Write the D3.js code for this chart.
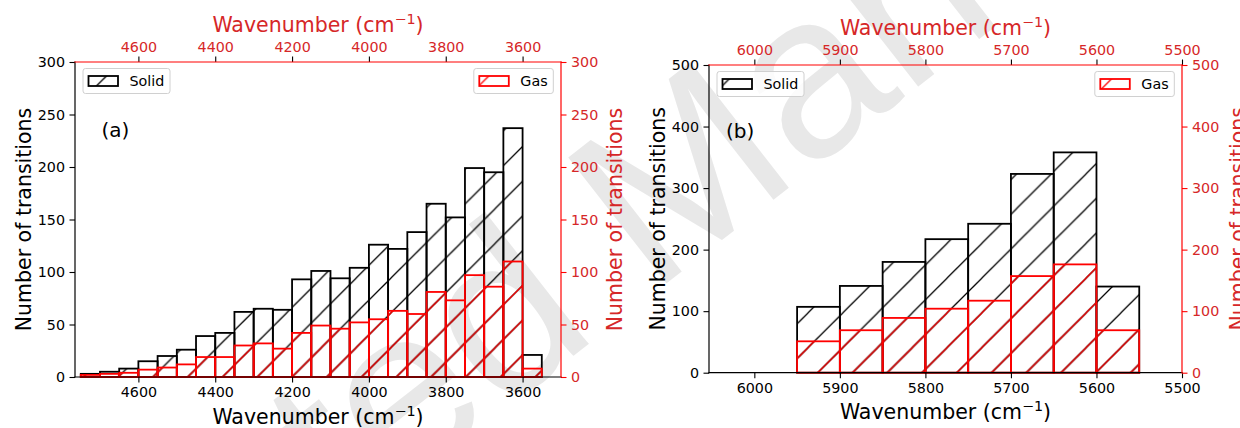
<!DOCTYPE html>
<html>
<head>
<meta charset="utf-8">
<script src="https://cdn.jsdelivr.net/npm/d3@7"></script>
<style>
  html, body { margin: 0; padding: 0; background: #fff; }
  svg { display: block; font-family: "DejaVu Sans", sans-serif; }
</style>
</head>
<body>
<svg id="fig" width="1240" height="428"></svg>
<script>
// ---- Panel (a): 50 cm-1 bins, left edge of each bin (high wavenumber side)
const binsA = [4750, 4700, 4650, 4600, 4550, 4500, 4450, 4400, 4350, 4300, 4250, 4200,
               4150, 4100, 4050, 4000, 3950, 3900, 3850, 3800, 3750, 3700, 3650, 3600];
const solidA = [3, 5, 8, 15, 20, 26, 39, 42, 62, 65, 64, 93,
                101, 94, 104, 126, 122, 138, 165, 152, 199, 195, 237, 21];
const gasA = [2, 3, 4, 7, 9, 12, 19, 19, 30, 32, 27, 42,
              49, 46, 52, 55, 63, 60, 81, 73, 97, 86, 110, 8];
const xTicksA = [4600, 4400, 4200, 4000, 3800, 3600];
const yTicksA = [0, 50, 100, 150, 200, 250, 300];

// ---- Panel (b)
const binsB = [5950, 5900, 5850, 5800, 5750, 5700, 5650, 5600];
const solidB = [107, 141, 180, 217, 242, 323, 358, 140];
const gasB = [51, 69, 89, 104, 117, 157, 176, 69];
const xTicksB = [6000, 5900, 5800, 5700, 5600, 5500];
const yTicksB = [0, 100, 200, 300, 400, 500];

const binWidth = 50;
const seriesNames = ["Solid", "Gas"];

const RED = "#ff0000";
const RED_TEXT = "#d62728";
const TICK_FONT = 14.3;
const LABEL_FONT = 20.5;
const fmt = d3.format("d");

const svg = d3.select("#fig");
const defs = svg.append("defs");

// Diagonal '/' hatch, anchored to the figure so both series share line positions
const HP = 34.76;
function hatch(id, color) {
  const p = defs.append("pattern")
    .attr("id", id)
    .attr("patternUnits", "userSpaceOnUse")
    .attr("x", 8.6).attr("y", 0)
    .attr("width", HP).attr("height", HP);
  const segs = [[0, HP, HP, 0], [-2, 2, 2, -2], [HP - 2, HP + 2, HP + 2, HP - 2]];
  segs.forEach(s => p.append("line")
    .attr("x1", s[0]).attr("y1", s[1]).attr("x2", s[2]).attr("y2", s[3])
    .attr("stroke", color).attr("stroke-width", 1.25));
}
hatch("hatch-solid", "#000");
hatch("hatch-gas", RED);

// Watermark layer (drawn first, behind everything)
const wmLayer = svg.append("g").attr("class", "watermark");

function wavenumberLabel(sel) {
  sel.append("tspan").text("Wavenumber (cm");
  sel.append("tspan").attr("dy", -8).attr("font-size", LABEL_FONT * 0.7).text("\u22121");
  sel.append("tspan").attr("dy", 8).text(")");
}

function drawPanel(cfg) {
  const g = svg.append("g");
  const x = d3.scaleLinear().domain(cfg.xDomain).range([cfg.left, cfg.right]);
  const y = d3.scaleLinear().domain([0, cfg.yMax]).range([cfg.bottom, cfg.top]);

  // solid bars
  g.append("g").selectAll("rect").data(cfg.bins.map((b, i) => ({ b, v: cfg.solid[i] })))
    .join("rect")
    .attr("x", d => x(d.b))
    .attr("width", d => x(d.b - binWidth) - x(d.b))
    .attr("y", d => y(d.v))
    .attr("height", d => y(0) - y(d.v))
    .attr("fill", "url(#hatch-solid)")
    .attr("stroke", "#000").attr("stroke-width", 1.8);

  // gas bars (twin axis with identical scale)
  g.append("g").selectAll("rect").data(cfg.bins.map((b, i) => ({ b, v: cfg.gas[i] })))
    .join("rect")
    .attr("x", d => x(d.b))
    .attr("width", d => x(d.b - binWidth) - x(d.b))
    .attr("y", d => y(d.v))
    .attr("height", d => y(0) - y(d.v))
    .attr("fill", "url(#hatch-gas)")
    .attr("stroke", RED).attr("stroke-width", 1.8);

  // axes
  const tick = 5.5, pad = 4.5;
  const bottomAx = g.append("g").attr("transform", `translate(0,${cfg.bottom})`)
    .call(d3.axisBottom(x).tickValues(cfg.xTicks).tickFormat(fmt).tickSize(tick).tickPadding(pad).tickSizeOuter(0));
  const topAx = g.append("g").attr("transform", `translate(0,${cfg.top})`)
    .call(d3.axisTop(x).tickValues(cfg.xTicks).tickFormat(fmt).tickSize(tick).tickPadding(pad).tickSizeOuter(0));
  const leftAx = g.append("g").attr("transform", `translate(${cfg.left},0)`)
    .call(d3.axisLeft(y).tickValues(cfg.yTicks).tickFormat(fmt).tickSize(tick).tickPadding(pad).tickSizeOuter(0));
  const rightAx = g.append("g").attr("transform", `translate(${cfg.right},0)`)
    .call(d3.axisRight(y).tickValues(cfg.yTicks).tickFormat(fmt).tickSize(tick).tickPadding(pad).tickSizeOuter(0));

  [bottomAx, topAx, leftAx, rightAx].forEach(a => {
    a.select(".domain").remove();
    a.selectAll("text").attr("font-size", TICK_FONT).attr("font-family", "DejaVu Sans");
    a.selectAll("line").attr("stroke-width", 1.1);
  });
  bottomAx.selectAll("line").attr("stroke", "#000");
  bottomAx.selectAll("text").attr("fill", "#000");
  leftAx.selectAll("line").attr("stroke", "#000");
  leftAx.selectAll("text").attr("fill", "#000");
  topAx.selectAll("line").attr("stroke", "#000");
  topAx.selectAll("text").attr("fill", RED_TEXT);
  rightAx.selectAll("line").attr("stroke", RED);
  rightAx.selectAll("text").attr("fill", RED_TEXT);

  // spines
  const sp = g.append("g").attr("stroke-width", 1.2).attr("stroke-linecap", "square");
  sp.append("line").attr("x1", cfg.left).attr("x2", cfg.left).attr("y1", cfg.top).attr("y2", cfg.bottom).attr("stroke", "#000");
  sp.append("line").attr("x1", cfg.left).attr("x2", cfg.right).attr("y1", cfg.bottom).attr("y2", cfg.bottom).attr("stroke", "#000");
  sp.append("line").attr("x1", cfg.left).attr("x2", cfg.right).attr("y1", cfg.top).attr("y2", cfg.top).attr("stroke", RED);
  sp.append("line").attr("x1", cfg.right).attr("x2", cfg.right).attr("y1", cfg.top).attr("y2", cfg.bottom).attr("stroke", RED);

  // axis labels
  const midX = (cfg.left + cfg.right) / 2, midY = (cfg.top + cfg.bottom) / 2;
  g.append("text").attr("x", midX).attr("y", cfg.bottom + 46.5)
    .attr("text-anchor", "middle").attr("font-size", LABEL_FONT).attr("fill", "#000")
    .call(wavenumberLabel);
  g.append("text").attr("x", midX).attr("y", cfg.top - 30.5)
    .attr("text-anchor", "middle").attr("font-size", LABEL_FONT).attr("fill", RED_TEXT)
    .call(wavenumberLabel);
  g.append("text").attr("transform", `translate(${cfg.leftLabelX},${midY}) rotate(-90)`)
    .attr("text-anchor", "middle").attr("font-size", LABEL_FONT).attr("fill", "#000")
    .text("Number of transitions");
  g.append("text").attr("transform", `translate(${cfg.rightLabelX},${midY}) rotate(-90)`)
    .attr("text-anchor", "middle").attr("font-size", LABEL_FONT).attr("fill", RED_TEXT)
    .text("Number of transitions");

  // panel tag
  g.append("text").attr("x", cfg.tag[1]).attr("y", cfg.tag[2])
    .attr("font-size", 20).attr("fill", "#000").text(cfg.tag[0]);

  // legends
  function legend(xf, yf, w, name, stroke, fillId) {
    const lg = g.append("g");
    lg.append("rect").attr("x", xf).attr("y", yf).attr("width", w).attr("height", 25)
      .attr("rx", 2.5).attr("fill", "#fff").attr("fill-opacity", 0.8)
      .attr("stroke", "#d0d0d0").attr("stroke-width", 1);
    lg.append("rect").attr("x", xf + 5.5).attr("y", yf + 7.5).attr("width", 29.5).attr("height", 10)
      .attr("fill", `url(#${fillId})`).attr("stroke", stroke).attr("stroke-width", 1.8);
    lg.append("text").attr("x", xf + 46.5).attr("y", yf + 17.5)
      .attr("font-size", TICK_FONT).attr("fill", "#000").text(name);
  }
  legend(cfg.left + 8, cfg.top + 6.5, 87, seriesNames[0], "#000", "hatch-solid");
  legend(cfg.right - 7.7 - 79.5, cfg.top + 6.5, 79.5, seriesNames[1], RED, "hatch-gas");
}

drawPanel({
  left: 75, right: 561, top: 62, bottom: 377,
  xDomain: [4765, 3500], yMax: 300,
  bins: binsA, solid: solidA, gas: gasA,
  xTicks: xTicksA, yTicks: yTicksA,
  leftLabelX: 31, rightLabelX: 621.5,
  tag: ["(a)", 101.5, 137]
});

drawPanel({
  left: 709, right: 1182, top: 65, bottom: 372.7,
  xDomain: [6053, 5500], yMax: 500,
  bins: binsB, solid: solidB, gas: gasB,
  xTicks: xTicksB, yTicks: yTicksB,
  leftLabelX: 665, rightLabelX: 1244.5,
  tag: ["(b)", 726, 138]
});

// Diagonal watermark, placed by the centre of its "M"
const wm = wmLayer.append("text")
  .attr("font-family", "Liberation Sans, Arial, sans-serif")
  .attr("font-size", 232)
  .attr("fill", "#e8e8e8")
  .text("Accepted Manuscript");
const mIdx = 9;
const ext = wm.node().getExtentOfChar(mIdx);
const cx = ext.x + ext.width / 2, cy = ext.y + ext.height / 2;
wm.attr("transform", `translate(678,172) rotate(-38) translate(${-cx},${-cy})`);
</script>
</body>
</html>
